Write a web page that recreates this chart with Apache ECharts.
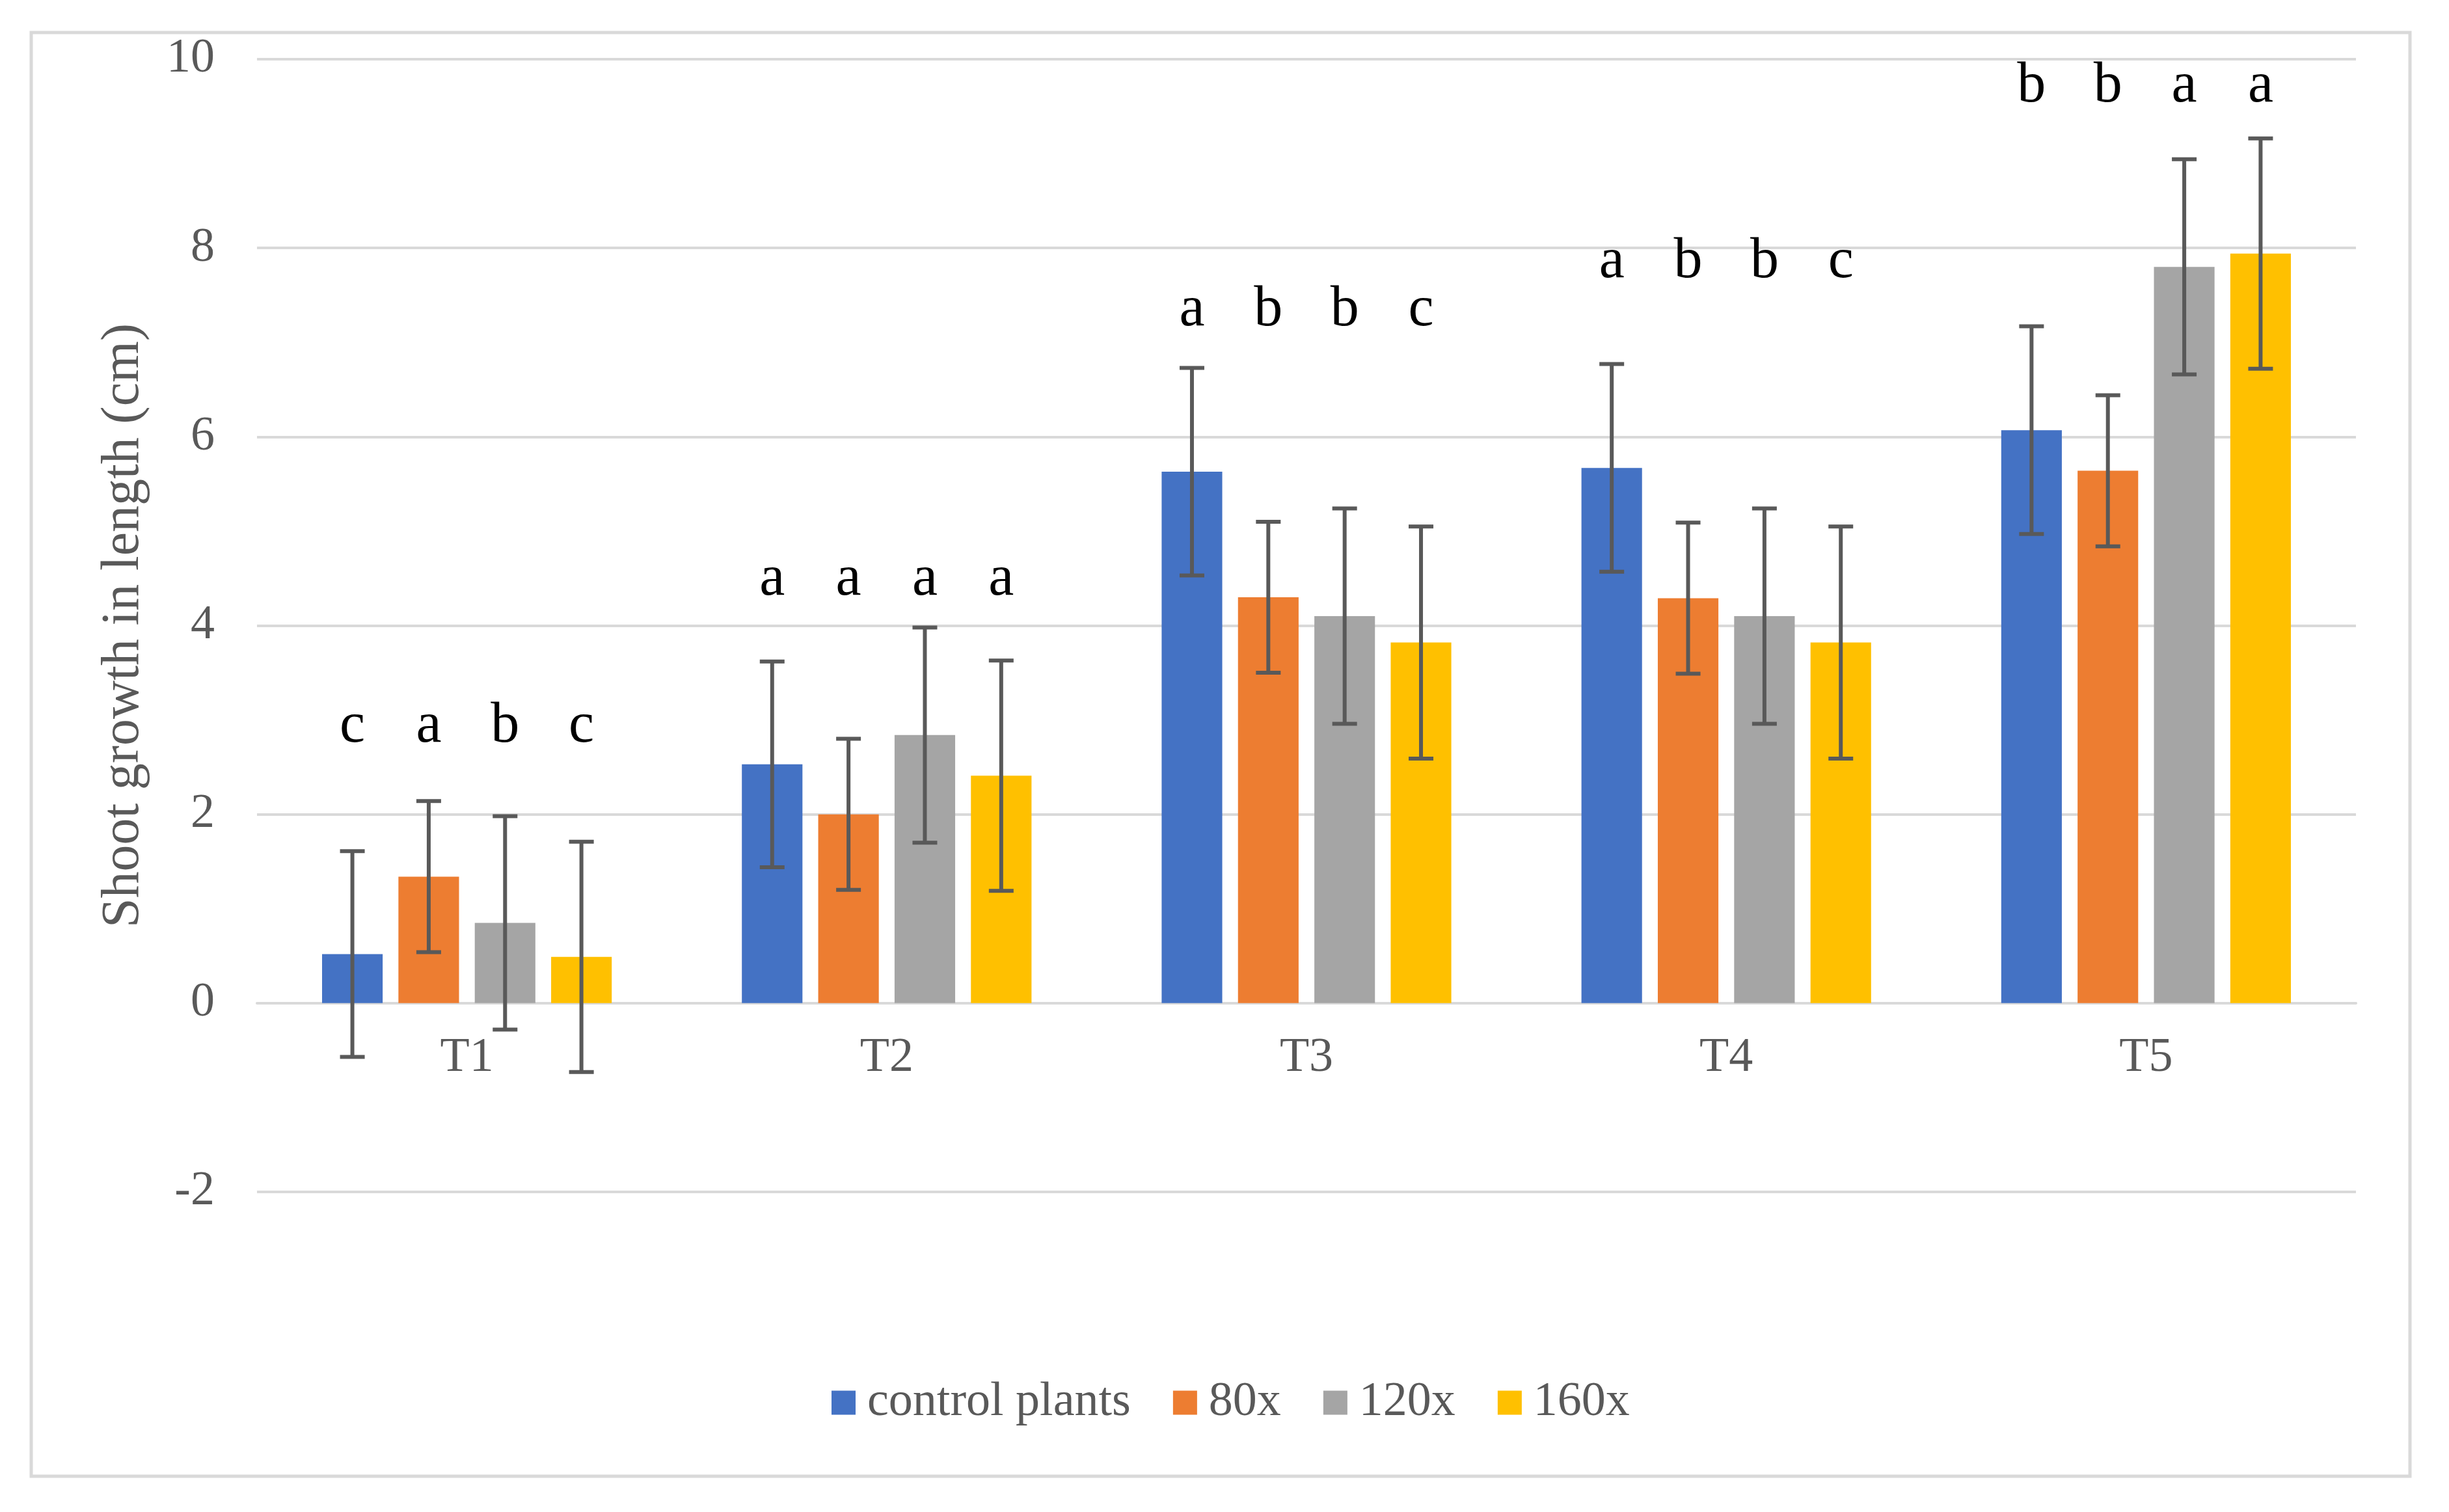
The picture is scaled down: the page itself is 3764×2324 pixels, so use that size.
<!DOCTYPE html>
<html><head><meta charset="utf-8">
<script src="https://cdn.jsdelivr.net/npm/echarts@6/dist/echarts.min.js"></script>
<style>html,body{margin:0;padding:0;background:#fff}#c{width:3764px;height:2324px}</style>
</head><body><div id="c"></div>
<script>
const categories = ['T1','T2','T3','T4','T5'];
const seriesNames = ['control plants','80x','120x','160x'];
const control = [0.52, 2.53, 5.63, 5.67, 6.07];
const x80 = [1.34, 2.00, 4.30, 4.29, 5.64];
const x120 = [0.85, 2.84, 4.10, 4.10, 7.80];
const x160 = [0.49, 2.41, 3.82, 3.82, 7.94];
const errControl = [1.09, 1.09, 1.10, 1.10, 1.10];
const err80 = [0.80, 0.80, 0.80, 0.80, 0.80];
const err120 = [1.13, 1.14, 1.14, 1.14, 1.14];
const err160 = [1.22, 1.22, 1.23, 1.23, 1.22];
const lettersControl = ['c','a','a','a','b'];
const letters80 = ['a','a','b','b','b'];
const letters120 = ['b','a','b','b','a'];
const letters160 = ['c','a','c','c','a'];
const letterLevel = [2.93, 4.49, 7.34, 7.85, 9.71];
const yMin = -2, yMax = 10, yInterval = 2;

const colors = ['#4472C4','#ED7D31','#A5A5A5','#FFC000'];
const FONT = '"Liberation Serif", "Times New Roman", serif';
const CAT_GAP = 0.31, BAR_GAP = 0.26;

function barOffset(api, si) {
  const catW = api.size([1, 0])[0];
  const barW = catW * (1 - CAT_GAP) / (4 + 3 * BAR_GAP);
  return (si - 1.5) * barW * (1 + BAR_GAP);
}

function makeErr(si, means, errs) {
  return {
    type: 'custom', z: 10, silent: true,
    data: means.map((m, i) => [i, m - errs[i], m + errs[i]]),
    encode: { x: 0, y: [1, 2] },
    renderItem: function (params, api) {
      const ci = api.value(0);
      const lo = api.coord([ci, api.value(1)]);
      const hi = api.coord([ci, api.value(2)]);
      const x = lo[0] + barOffset(api, si);
      const cap = 19;
      const style = { stroke: '#595959', lineWidth: 6 };
      return { type: 'group', children: [
        { type: 'line', shape: { x1: x, y1: lo[1], x2: x, y2: hi[1] }, style: style },
        { type: 'line', shape: { x1: x - cap, y1: lo[1], x2: x + cap, y2: lo[1] }, style: style },
        { type: 'line', shape: { x1: x - cap, y1: hi[1], x2: x + cap, y2: hi[1] }, style: style }
      ]};
    }
  };
}

function makeLetters(si, letters) {
  return {
    type: 'custom', z: 11, silent: true,
    data: letters.map((l, i) => [i, letterLevel[i], l]),
    encode: { x: 0, y: 1 },
    renderItem: function (params, api) {
      const ci = api.value(0);
      const p = api.coord([ci, api.value(1)]);
      return { type: 'text', x: p[0] + barOffset(api, si), y: p[1],
        style: { text: letters[params.dataIndex], fill: '#000', fontSize: 88, fontFamily: FONT,
                 align: 'center', verticalAlign: 'middle' } };
    }
  };
}

const means = [control, x80, x120, x160];
const errs = [errControl, err80, err120, err160];
const letterSets = [lettersControl, letters80, letters120, letters160];

const series = [];
means.forEach((m, si) => {
  series.push({ type: 'bar', name: seriesNames[si], data: m, itemStyle: { color: colors[si] },
    barCategoryGap: (CAT_GAP * 100) + '%', barGap: (BAR_GAP * 100) + '%' });
});
means.forEach((m, si) => series.push(makeErr(si, m, errs[si])));
letterSets.forEach((l, si) => series.push(makeLetters(si, l)));

const chart = echarts.init(document.getElementById('c'), null, { renderer: 'canvas' });
chart.setOption({
  backgroundColor: '#ffffff',
  animation: false,
  color: colors,
  graphic: [{ type: 'rect', shape: { x: 48, y: 50, width: 3656, height: 2219 },
    style: { fill: 'none', stroke: '#d9d9d9', lineWidth: 5 }, z: -1 }],
  grid: { left: 395, right: 143, top: 91, bottom: 492, containLabel: false },
  legend: {
    data: seriesNames, left: 1273, top: 2114, icon: 'rect', itemWidth: 37, itemHeight: 37, itemGap: 65,
    textStyle: { fontSize: 74, color: '#595959', fontFamily: FONT, padding: [0, 0, 0, 13] }
  },
  xAxis: {
    type: 'category', data: categories, position: 'bottom', offset: 0,
    axisLine: { show: true, onZero: false, lineStyle: { color: '#d9d9d9', width: 4 } },
    axisTick: { show: false },
    axisLabel: { fontSize: 74, color: '#595959', fontFamily: FONT, margin: 48 }
  },
  yAxis: {
    type: 'value', min: yMin, max: yMax, interval: yInterval,
    name: 'Shoot growth in length (cm)', nameLocation: 'middle', nameGap: 164,
    nameTextStyle: { fontSize: 82, color: '#595959', fontFamily: FONT },
    axisLine: { show: false }, axisTick: { show: false },
    axisLabel: { fontSize: 74, color: '#595959', fontFamily: FONT, margin: 65 },
    splitLine: { lineStyle: { color: '#d9d9d9', width: 4 } }
  },
  series: series
});
// move the category axis (line + labels) up to the value 0 line
const zeroY = chart.convertToPixel({ yAxisIndex: 0 }, 0);
const bottomY = chart.convertToPixel({ yAxisIndex: 0 }, yMin);
chart.setOption({ xAxis: { offset: zeroY - bottomY } });
</script></body></html>
